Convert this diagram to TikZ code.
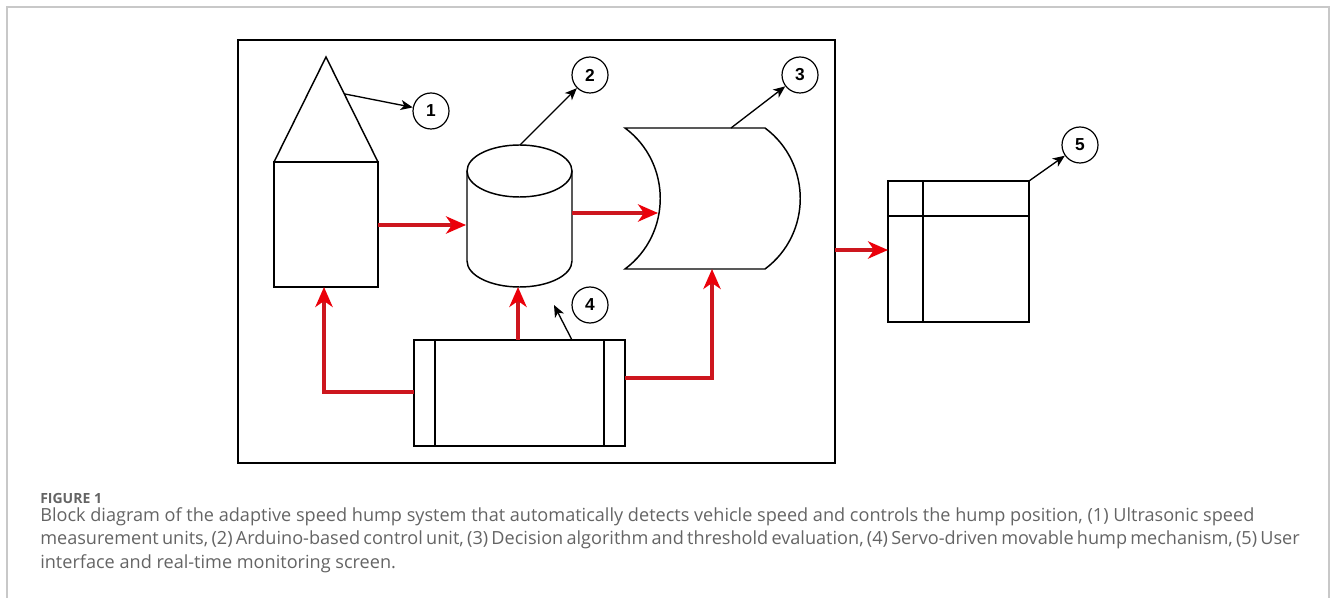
\documentclass[tikz,border=0pt]{standalone}
\usepackage{fontspec}
\setsansfont{Open Sans}
\newfontfamily\digitfont{Liberation Sans}
\usetikzlibrary{arrows.meta}

\definecolor{flowred}{RGB}{205,22,30}
\definecolor{tipred}{RGB}{235,0,10}
\definecolor{capgray}{RGB}{100,100,100}
\definecolor{framegray}{RGB}{200,200,200}

\tikzset{
  flow/.style={draw=flowred, line width=2.3pt, -{Stealth[length=15pt, width=13pt, inset=4.5pt, color=tipred]}},
  ptr/.style={line width=1pt, -{Stealth[length=9pt, width=7.5pt, inset=2.5pt]}},
  numcirc/.style={circle, draw, line width=0.9pt, minimum size=27pt, inner sep=0pt, font=\digitfont\bfseries\fontsize{13}{13}\selectfont},
  captline/.style={anchor=base west, inner sep=0pt, text=capgray, font=\sffamily\fontsize{13.58}{17.6}\selectfont}
}

\begin{document}
\begin{tikzpicture}[x=0.75pt,y=0.75pt,yscale=-1,xscale=1]
\useasboundingbox (0,0) rectangle (1331,598);

%Frame
\draw [color=framegray, line width=1.1pt] (7,598) -- (7,7) -- (1329,7) -- (1329,598) ;

%Shape: Rectangle [outer box]
\draw [line width=1.1pt] (238,40) rectangle (835,463) ;
\coordinate (boxE) at (835,250) ;

%Shape: Triangle [sensor head]
\draw [line width=1.1pt] (274,162) -- (326,57) -- (378,162) ;
\coordinate (sensTip) at (345,94) ;
%Shape: Rectangle [sensor body]
\draw [line width=1.1pt] (274,162) rectangle (378,287) ;
\coordinate (sensE) at (378,225) ;
\coordinate (sensS) at (324,287) ;

%Shape: Can
\draw [line width=1.1pt] (519.5,171) ellipse [x radius=52.5, y radius=26] ;
\draw [line width=1.1pt] (467,171) -- (467,261) arc [start angle=180, end angle=0, x radius=52.5, y radius=26] -- (572,171) ;
\coordinate (cylN) at (520,145) ;
\coordinate (cylW) at (466,225) ;
\coordinate (cylE) at (572,213) ;
\coordinate (cylS) at (518,287) ;

%Shape: Stored Data
\draw [line width=1.1pt] (625,128) -- (765,128) .. controls (812,163) and (812,234) .. (765,269) -- (625,269) .. controls (672,234) and (672,163) .. (625,128) -- cycle ;
\coordinate (cardN) at (731,128) ;
\coordinate (cardW) at (658,213) ;
\coordinate (cardS) at (712,269) ;

%Shape: Internal Storage
\draw [line width=1.1pt] (888,181) rectangle (1029,322) ;
\draw [line width=1.1pt] (888,216) -- (1029,216) ;
\draw [line width=1.1pt] (923,181) -- (923,322) ;
\coordinate (tabW) at (888,250) ;
\coordinate (tabNE) at (1029,181) ;

%Shape: Process
\draw [line width=1.1pt] (414,340) rectangle (625,446) ;
\draw [line width=1.1pt] (435,340) -- (435,446) ;
\draw [line width=1.1pt] (604,340) -- (604,446) ;
\coordinate (humpW) at (414,392) ;
\coordinate (humpN) at (518,340) ;
\coordinate (humpE) at (625,378) ;
\coordinate (humpNE) at (572,340) ;
\coordinate (tip4) at (554,305) ;

%Numbered circles
\node [numcirc] (n1) at (431,111) {1};
\node [numcirc] (n2) at (590,75) {2};
\node [numcirc] (n3) at (800,75) {3};
\node [numcirc] (n4) at (590,305) {4};
\node [numcirc] (n5) at (1080,145) {5};

%Pointers
\draw [ptr] (sensTip) -- (n1) ;
\draw [ptr] (cylN) -- (n2) ;
\draw [ptr] (cardN) -- (n3) ;
\draw [ptr] (humpNE) -- (tip4) ;
\draw [ptr] (tabNE) -- (n5) ;

%Red flow lines
\draw [flow] (sensE) -- (cylW) ;
\draw [flow] (cylE) -- (cardW) ;
\draw [flow] (boxE) -- (tabW) ;
\draw [flow] (humpW) -| (sensS) ;
\draw [flow] (humpN) -- (cylS) ;
\draw [flow] (humpE) -| (cardS) ;

% Text Node
\node [anchor=base west, inner sep=0pt, text=capgray, font=\sffamily\bfseries\fontsize{10.5}{11}\selectfont] (fig) at (40,503) {FIGURE 1};
% Text Nodes
\node [captline] (cap1) at (40,521) {Block diagram of the adaptive speed hump system that automatically detects vehicle speed and controls the hump position, (1) Ultrasonic speed};
\node [captline] (cap2) at (40,544.5) {\spaceskip=0.18em measurement units, (2) Arduino-based control unit, (3) Decision algorithm and threshold evaluation, (4) Servo-driven movable hump mechanism, (5) User};
\node [captline] (cap3) at (40,568) {interface and real-time monitoring screen.};

\end{tikzpicture}
\end{document}
